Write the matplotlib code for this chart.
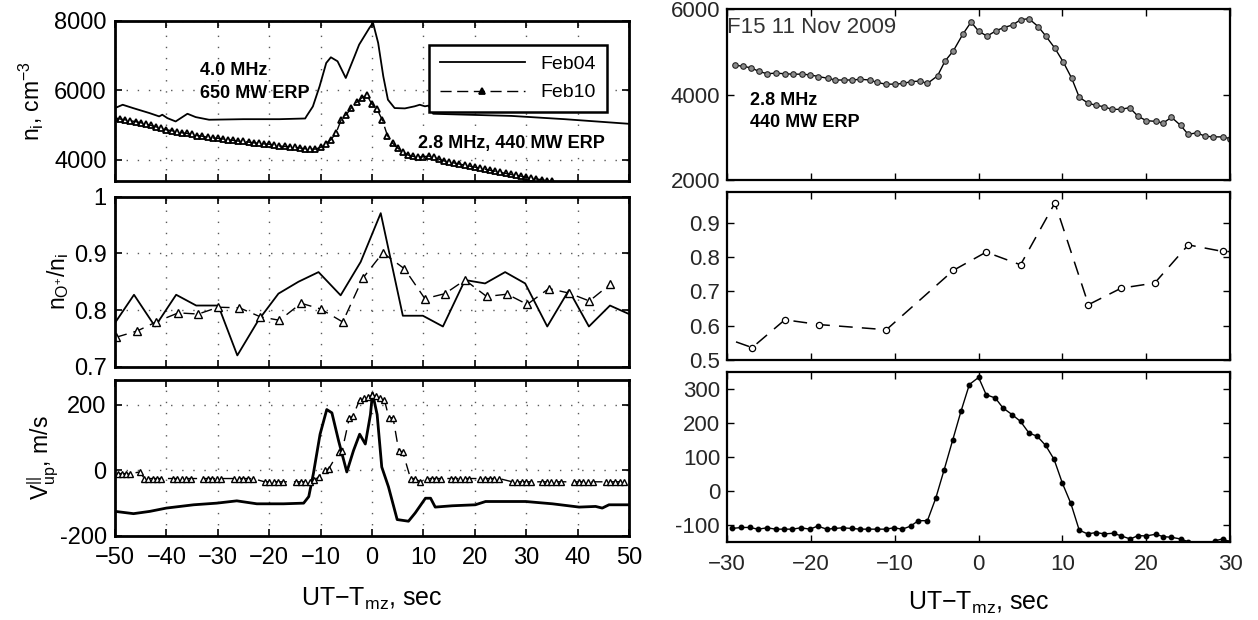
import numpy as np
import matplotlib
matplotlib.use('Agg')
import matplotlib.pyplot as plt
from matplotlib.ticker import FuncFormatter

plt.rcParams['font.family'] = ['Liberation Sans', 'DejaVu Sans']
plt.rcParams['mathtext.fontset'] = 'custom'
plt.rcParams['mathtext.rm'] = 'Liberation Sans'
plt.rcParams['mathtext.it'] = 'Liberation Sans'

# ---- left column: Feb04 / Feb10 (x = UT - Tmz, sec)
feb04_ni_t = [-50, -48.5, -46.5, -43.3, -41.4, -40.8, -39.8, -38.2, -35.9, -34.3,
              -31.7, -25, -18, -13, -12.7, -11.5, -10.2, -8.9, -8.0, -6.7,
              -5.1, -3.4, -2.5, -0.5, 0.2, 1.2, 2.2, 3.1, 4.4, 6.4,
              8.3, 9.3, 10.3, 11.0, 11.9, 18.1, 27.1, 37.5, 50]
feb04_ni = [5490, 5585, 5490, 5346, 5250, 5298, 5200, 5105, 5326, 5230,
            5154, 5170, 5170, 5190, 5264, 5536, 6112, 6787, 6950, 6835,
            6355, 6977, 7314, 7795, 7940, 7363, 6400, 5730, 5490, 5480,
            5540, 5585, 5540, 5560, 5326, 5300, 5264, 5170, 5037]

feb10_ni_t = list(range(-50, 36))
feb10_ni = [5200, 5175, 5150, 5125, 5100, 5070, 5030, 4990, 4950, 4905,
            4865, 4840, 4810, 4780, 4760, 4730, 4700, 4680, 4650, 4630,
            4620, 4600, 4580, 4560, 4540, 4530, 4510, 4490, 4480, 4460,
            4450, 4430, 4400, 4385, 4380, 4360, 4340, 4320, 4310, 4310,
            4360, 4470, 4580, 4770, 5150, 5300, 5500, 5650, 5780, 5860,
            5600, 5450, 5150, 4700, 4480, 4340, 4220, 4140, 4100, 4080,
            4090, 4110, 4070, 4020, 3970, 3940, 3910, 3880, 3850, 3820,
            3790, 3760, 3730, 3700, 3670, 3640, 3610, 3580, 3560, 3530,
            3500, 3480, 3450, 3430, 3400, 3380]

feb04_ratio_t = [-50.1, -46.3, -42.2, -38.1, -34.2, -29.9, -26.2, -22.1, -18.2, -14.3,
                 -10.4, -6.1, -2.2, 1.7, 6.0, 9.9, 13.8, 18.1, 22.0, 25.9,
                 29.8, 34.1, 38.3, 42.2, 46.3, 50]
feb04_ratio = [0.776, 0.827, 0.771, 0.827, 0.808, 0.808, 0.720, 0.782, 0.829, 0.850,
               0.867, 0.826, 0.885, 0.971, 0.790, 0.790, 0.771, 0.853, 0.847, 0.867,
               0.847, 0.771, 0.835, 0.771, 0.808, 0.793]

feb10_ratio_t = [-49.8, -45.7, -42.0, -37.7, -33.8, -29.9, -25.8, -21.7, -18.0, -13.8,
                 -10.0, -5.7, -1.8, 2.1, 6.3, 10.3, 14.2, 18.1, 22.3, 26.3,
                 30.2, 34.4, 38.3, 42.3, 46.4]
feb10_ratio = [0.752, 0.763, 0.779, 0.795, 0.793, 0.805, 0.804, 0.788, 0.782, 0.812,
               0.802, 0.779, 0.856, 0.901, 0.873, 0.820, 0.829, 0.853, 0.824, 0.828,
               0.810, 0.838, 0.830, 0.816, 0.846]

feb04_v_t = [-50, -46.4, -43.2, -40, -34.7, -30.2, -26.3, -22.4, -17.2, -13.3,
             -12.3, -11.4, -10.1, -8.8, -7.8, -6.5, -4.9, -3.6, -2.4, -1.3,
             -0.3, 0.1, 1.0, 1.9, 3.2, 4.9, 7.1, 8.4, 10.4, 11.4,
             12.3, 15.6, 20.1, 22.1, 29.9, 35.1, 40.3, 43.5, 44.8, 46.1, 50]
feb04_v = [-125, -132, -125, -115, -105, -100, -93, -102, -102, -100,
           -80, -10, 110, 185, 175, 90, -5, 60, 110, 80,
           170, 235, 170, 10, -50, -150, -155, -130, -85, -85,
           -112, -108, -105, -95, -95, -102, -112, -110, -115, -105, -105]

feb10_v_t = [-49.5, -48.7, -47.9, -47.1, -45.1, -44.3, -43.5, -42.7, -41.9, -41.1,
             -38.8, -37.9, -37.0, -36.1, -35.2, -32.9, -32.0, -31.1, -30.2, -29.3,
             -26.8, -25.9, -25.0, -24.1, -23.2, -20.9, -20.0, -19.1, -18.2, -17.3,
             -14.8, -13.9, -13.0, -12.1, -11.2, -10.4, -9.1, -8.4, -6.5, -5.8,
             -4.4, -3.7, -2.4, -1.6, -0.8, 0.0, 0.8, 1.6, 2.4, 3.3,
             4.1, 5.2, 6.0, 7.5, 8.3, 9.4, 10.7, 11.6, 12.5, 13.4,
             15.3, 16.2, 17.1, 18.0, 18.9, 21.1, 22.0, 22.9, 23.8, 24.7,
             27.3, 28.2, 29.1, 30.0, 30.9, 33.1, 34.0, 34.9, 35.8, 36.7,
             39.3, 40.2, 41.1, 42.0, 42.9, 45.5, 46.4, 47.3, 48.2, 49.1]
feb10_v = [-10, -10, -10, -10, -5, -25, -25, -25, -25, -25,
           -25, -25, -25, -25, -25, -25, -25, -25, -25, -25,
           -25, -25, -25, -25, -25, -35, -35, -35, -35, -35,
           -35, -35, -35, -35, -30, -20, 0, 5, 55, 60,
           160, 165, 215, 220, 222, 230, 225, 220, 215, 160,
           160, 60, 55, -25, -25, -35, -25, -25, -25, -25,
           -25, -25, -25, -25, -25, -25, -25, -25, -25, -25,
           -35, -35, -35, -35, -35, -35, -35, -35, -35, -35,
           -35, -35, -35, -35, -35, -35, -35, -35, -35, -35]

# ---- right column: F15 11 Nov 2009
f15_ni_t = [-29.1, -28.1, -27.1, -26.2, -25.2, -24.2, -23.1, -22.1, -21.1, -20.1,
            -19.1, -18.0, -17.1, -16.1, -15.1, -14.1, -13.0, -12.1, -11.1, -10.0,
            -9.0, -8.1, -7.0, -6.1, -4.9, -4.0, -3.0, -1.9, -0.9, 0.0,
            1.0, 2.1, 3.0, 4.1, 5.0, 6.0, 7.1, 8.0, 9.1, 10.1,
            11.1, 12.0, 13.1, 14.0, 15.0, 15.9, 17.0, 18.0, 19.0, 20.0,
            21.1, 22.0, 23.0, 24.1, 25.0, 26.0, 27.0, 28.0, 29.1, 30.0]
f15_ni = [4690, 4666, 4626, 4545, 4489, 4505, 4489, 4480, 4480, 4464,
          4424, 4384, 4343, 4343, 4343, 4360, 4343, 4287, 4246, 4246,
          4262, 4303, 4319, 4262, 4440, 4787, 5030, 5410, 5700, 5490,
          5370, 5500, 5571, 5636, 5757, 5780, 5596, 5377, 5087, 4763,
          4384, 3940, 3794, 3753, 3713, 3656, 3656, 3697, 3495, 3390,
          3374, 3333, 3470, 3277, 3067, 3107, 3026, 3010, 3010, 2970]

f15_ratio_t = [-31.5, -27.0, -23.1, -19.0, -11.0, -3.0, 0.9, 5.0, 9.1, 13.1,
               17.0, 21.0, 25.0, 29.1, 31.5]
f15_ratio = [0.575, 0.536, 0.617, 0.603, 0.588, 0.761, 0.814, 0.777, 0.957, 0.661,
             0.709, 0.724, 0.835, 0.816, 0.815]

f15_v_t = [-29.4, -28.3, -27.3, -26.3, -25.2, -24.2, -23.2, -22.2, -21.2, -20.1,
           -19.2, -18.1, -17.2, -16.2, -15.1, -14.1, -13.2, -12.1, -11.1, -10.1,
           -9.1, -8.1, -7.2, -6.1, -5.1, -4.1, -3.1, -2.1, -1.1, 0.0,
           0.9, 2.0, 2.9, 4.0, 5.0, 6.0, 7.0, 8.0, 9.0, 10.0,
           11.0, 12.0, 13.0, 14.0, 15.0, 16.1, 17.0, 18.1, 19.0, 20.0,
           21.1, 22.0, 23.0, 24.1, 25.0, 26.0, 27.1, 28.2, 29.1, 30.0]
f15_v = [-111, -108, -108, -113, -109, -113, -113, -113, -109, -113,
         -104, -113, -111, -109, -111, -113, -113, -113, -113, -109,
         -113, -104, -88, -88, -21, 63, 149, 235, 314, 335,
         284, 274, 245, 225, 205, 171, 161, 134, 93, 22,
         -37, -116, -127, -123, -127, -125, -133, -142, -132, -133,
         -128, -135, -137, -142, -150, -156, -158, -147, -142, -150]

LABEL_FS = 16.5
XLABEL_FS = 18
TICK_FS = 17


def style_left(ax, ylim, yticks):
    ax.set_xlim(-50, 50)
    ax.set_ylim(*ylim)
    ax.set_xticks(np.arange(-50, 51, 10))
    ax.set_yticks(yticks)
    ax.grid(True, ls=(0, (1, 7)), color='0.35', lw=1.0)
    ax.tick_params(direction='in', top=True, right=True, length=5,
                   width=1.2, labelsize=TICK_FS)
    ax.tick_params(axis='x', pad=8)
    ax.tick_params(axis='y', pad=6)
    for s in ax.spines.values():
        s.set_linewidth(2.0)
    ax.yaxis.set_major_formatter(FuncFormatter(lambda v, p: '%g' % v))


def style_right(ax, ylim, yticks):
    ax.set_xlim(-30, 30)
    ax.set_ylim(*ylim)
    ax.set_xticks(np.arange(-30, 31, 10))
    ax.set_yticks(yticks)
    ax.tick_params(direction='in', top=True, right=True, length=5,
                   width=1.0, labelsize=16, labelcolor='0.15')
    ax.tick_params(axis='x', pad=9)
    ax.tick_params(axis='y', pad=5)
    for s in ax.spines.values():
        s.set_linewidth(1.6)
    ax.yaxis.set_major_formatter(FuncFormatter(lambda v, p: '%g' % v))


fig = plt.figure(figsize=(12.58, 6.2), dpi=100)

# left column
ax1 = fig.add_axes([0.0914, 0.7085, 0.4086, 0.2580])
ax2 = fig.add_axes([0.0914, 0.4085, 0.4086, 0.2742])
ax3 = fig.add_axes([0.0914, 0.1355, 0.4086, 0.2516])

ax1.plot(feb04_ni_t, feb04_ni, 'k-', lw=1.3, label='Feb04')
ax1.plot(feb10_ni_t, feb10_ni, 'k--', lw=1.0, marker='^', ms=5,
         mfc='none', mew=1.3, label='Feb10', dashes=(8, 4))
style_left(ax1, (3400, 8000), [4000, 6000, 8000])
ax1.set_xticklabels([])
ax1.set_ylabel(r'n$_{\mathrm{i}}$, cm$^{-3}$', fontsize=LABEL_FS, labelpad=6)
leg = ax1.legend(loc='upper right', bbox_to_anchor=(0.976, 0.91), fontsize=14,
                 fancybox=False, edgecolor='k', framealpha=1, handlelength=4.4,
                 borderpad=0.55, labelspacing=0.55)
leg.get_frame().set_linewidth(1.8)
leg.legend_handles[1].set_markerfacecolor('k')
ax1.text(0.165, 0.74, '4.0 MHz\n650 MW ERP', transform=ax1.transAxes,
         fontsize=13, fontweight='bold', va='top', linespacing=1.4)
ax1.text(0.59, 0.23, '2.8 MHz, 440 MW ERP', transform=ax1.transAxes,
         fontsize=13, fontweight='bold', va='center')

ax2.plot(feb04_ratio_t, feb04_ratio, 'k-', lw=1.3)
ax2.plot(feb10_ratio_t, feb10_ratio, 'k--', lw=1.0, marker='^', ms=6,
         mfc='white', mew=1.0, dashes=(8, 5))
style_left(ax2, (0.7, 1.0), [0.7, 0.8, 0.9, 1.0])
ax2.set_xticklabels([])
ax2.set_ylabel(r'n$_{\mathrm{O}^{+}}$/n$_{\mathrm{i}}$', fontsize=LABEL_FS, labelpad=2)

ax3.plot(feb04_v_t, feb04_v, 'k-', lw=2.0)
ax3.plot(feb10_v_t, feb10_v, 'k--', lw=1.0, marker='^', ms=5,
         mfc='white', mew=1.0, dashes=(8, 5))
style_left(ax3, (-200, 275), [-200, 0, 200])
ax3.set_ylabel(r'V$^{||}_{\mathrm{up}}$, m/s', fontsize=LABEL_FS, labelpad=0)
ax3.set_xlabel(r'UT$-$T$_{\mathrm{mz}}$, sec', fontsize=XLABEL_FS, va='baseline')
ax3.xaxis.set_label_coords(0.5, -0.445)

# right column
ax4 = fig.add_axes([0.5779, 0.7097, 0.4000, 0.2753])
ax5 = fig.add_axes([0.5779, 0.4194, 0.4000, 0.2715])
ax6 = fig.add_axes([0.5779, 0.1263, 0.4000, 0.2732])

ax4.plot(f15_ni_t, f15_ni, 'k-', lw=1.0, marker='o', ms=4, mfc='0.55',
         mec='0.15', mew=0.8)
style_right(ax4, (2000, 6000), [2000, 4000, 6000])
ax4.set_xticklabels([])
ax4.text(0.0, 0.955, 'F15 11 Nov 2009', transform=ax4.transAxes, fontsize=16,
         color='0.2', va='top', ha='left')
ax4.text(0.046, 0.515, '2.8 MHz\n440 MW ERP', transform=ax4.transAxes,
         fontsize=13, fontweight='bold', va='top', linespacing=1.4)

ax5.plot(f15_ratio_t, f15_ratio, 'k--', lw=1.1, marker='o', ms=4.5,
         mfc='white', mec='k', mew=0.9, dashes=(9, 6))
style_right(ax5, (0.5, 0.99), [0.5, 0.6, 0.7, 0.8, 0.9])
ax5.set_xticklabels([])

ax6.plot(f15_v_t, f15_v, 'k-', lw=1.0, marker='o', ms=3.2, mfc='k', mec='k')
style_right(ax6, (-150, 350), [-100, 0, 100, 200, 300])
ax6.set_xlabel(r'UT$-$T$_{\mathrm{mz}}$, sec', fontsize=XLABEL_FS, va='baseline')
ax6.xaxis.set_label_coords(0.5, -0.40)

plt.savefig('out.png', dpi=100)
